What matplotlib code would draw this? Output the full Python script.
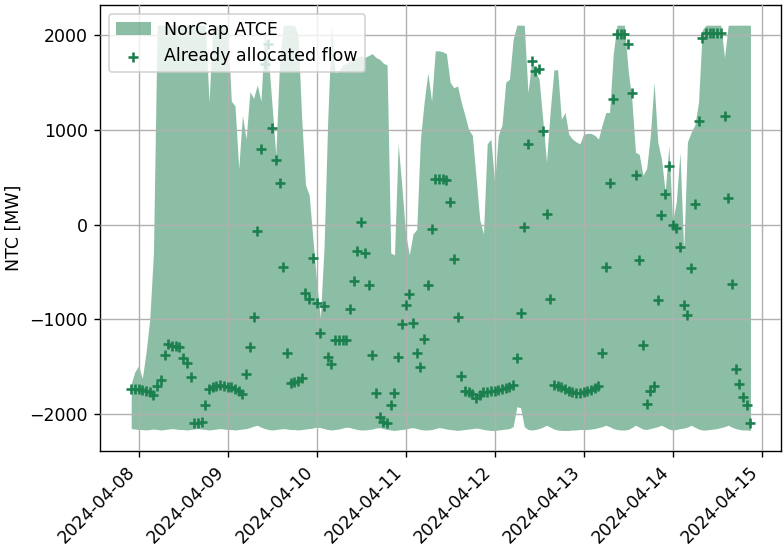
import matplotlib
matplotlib.use("Agg")
import matplotlib.pyplot as plt
import pandas as pd

# Hourly timestamps (one week)
times = pd.date_range("2024-04-07 22:00", periods=168, freq="h")

# NorCap ATCE upper bound [MW]
atce_max = [
    -1680, -1550, -1490, -1620, -1350, -1000, -300, 2100, 2100, 2100,
    2100, 2100, 2100, 2100, 2100, 2100, 2100, 2100, 2100, 2100,
    2100, 1290, 2100, 2100, 2100, 2100, 2100, 1300, 1250, 590,
    1150, 900, 1400, 1330, 1470, 1300, 2050, 1760, 1250, 730,
    1700, 2100, 2100, 2100, 2100, 2000, 1100, 420, 310, -150,
    -600, -985, -250, 1100, 2100, 1600, 1620, 1680, 1700, 1720,
    1740, 1760, 1780, 1760, 1780, 1800, 1760, 1740, 1700, 1680,
    -300, -320, 850, 400, -100, -320, -100, -50, 900, 1290,
    1600, 1300, 1830, 1830, 1820, 1800, 1500, 1440, 1460, 1290,
    1150, 1000, 940, 500, 50, -100, 850, 900, 450, 940,
    1050, 1500, 1530, 1950, 2100, 2100, 2100, 1390, 1710, 1620,
    1530, 1100, 660, 1200, 1630, 1630, 1110, 1180, 950, 900,
    870, 850, 950, 960, 960, 940, 900, 1050, 1180, 1180,
    1800, 2100, 2100, 2100, 1630, 1320, 760, 740, 520, 590,
    940, 1500, 870, 690, 345, 830, 30, 240, 760, -280,
    870, 970, 1050, 1290, 2050, 2100, 2100, 2100, 2100, 2100,
    1760, 2100, 2100, 2100, 2100, 2100, 2100, 2100,
]

# NorCap ATCE lower bound [MW]
atce_min = [
    -2150, -2155, -2160, -2160, -2165, -2160, -2155, -2160, -2165, -2160,
    -2155, -2150, -2155, -2160, -2160, -2165, -2160, -2155, -2150, -2155,
    -2160, -2165, -2160, -2155, -2150, -2155, -2160, -2160, -2165, -2160,
    -2155, -2150, -2140, -2125, -2115, -2135, -2150, -2160, -2165, -2160,
    -2155, -2150, -2155, -2160, -2160, -2165, -2160, -2155, -2150, -2145,
    -2135, -2140, -2150, -2160, -2165, -2160, -2155, -2145, -2135, -2140,
    -2150, -2160, -2165, -2165, -2160, -2155, -2145, -2140, -2150, -2160,
    -2165, -2170, -2165, -2160, -2155, -2145, -2140, -2150, -2160, -2165,
    -2165, -2160, -2150, -2140, -2145, -2155, -2160, -2165, -2170, -2165,
    -2160, -2155, -2150, -2145, -2150, -2160, -2165, -2170, -2170, -2165,
    -2160, -2155, -2150, -2130, -1920, -1930, -2130, -2160, -2165, -2160,
    -2150, -2135, -2115, -2135, -2155, -2165, -2170, -2170, -2170, -2165,
    -2165, -2160, -2160, -2160, -2155, -2150, -2140, -2130, -2115, -2130,
    -2150, -2160, -2165, -2165, -2160, -2140, -2115, -2135, -2155, -2160,
    -2150, -2140, -2130, -2115, -2135, -2155, -2165, -2160, -2150, -2145,
    -2135, -2115, -2135, -2155, -2165, -2165, -2160, -2155, -2150, -2140,
    -2130, -2115, -2135, -2150, -2160, -2165, -2165, -2170,
]

# Already allocated flow [MW]
allocated = [
    -1730, -1730, -1735, -1740, -1750, -1760, -1800, -1700, -1640, -1380,
    -1260, -1275, -1280, -1290, -1410, -1460, -1610, -2090, -2090, -2080,
    -1905, -1730, -1715, -1700, -1690, -1700, -1710, -1715, -1730, -1750,
    -1790, -1570, -1295, -970, -70, 800, 1690, 1900, 1015, 680,
    440, -450, -1350, -1665, -1660, -1650, -1620, -720, -790, -355,
    -825, -1140, -860, -1400, -1470, -1215, -1215, -1215, -1215, -890,
    -590, -275, 30, -300, -640, -1375, -1775, -2030, -2085, -2090,
    -1905, -1780, -1400, -1045, -850, -735, -1040, -1350, -1500, -1205,
    -640, -50, 480, 480, 475, 470, 240, -365, -970, -1600,
    -1750, -1760, -1790, -1830, -1800, -1770, -1760, -1755, -1750, -1745,
    -1735, -1720, -1710, -1690, -1410, -930, -30, 850, 1720, 1620,
    1640, 980, 110, -790, -1690, -1700, -1715, -1730, -1750, -1765,
    -1775, -1780, -1770, -1750, -1740, -1725, -1700, -1350, -450, 440,
    1320, 2010, 2010, 2010, 1900, 1390, 520, -370, -1270, -1895,
    -1750, -1700, -795, 100, 320, 615, 0, -40, -240, -850,
    -955, -460, 220, 1090, 1970, 2020, 2020, 2020, 2020, 2020,
    1140, 275, -625, -1520, -1685, -1820, -1905, -2090,
]

green = '#1b7f4e'

fig, ax = plt.subplots(figsize=(783 / 125, 547 / 125), dpi=125)
fig.subplots_adjust(left=0.128, right=0.998, bottom=0.176, top=0.991)

ax.fill_between(times, atce_min, atce_max, color=green, alpha=0.5,
                linewidth=0, label='NorCap ATCE')
ax.scatter(times, allocated, marker='+', s=40, linewidths=1.5,
           color=green, label='Already allocated flow', zorder=3)

ax.set_ylabel('NTC [MW]')
ax.grid(True)
ax.set_axisbelow(False)
plt.setp(ax.get_xticklabels(), rotation=45, ha='right')
ax.legend(loc='upper left')

fig.savefig('out.png', dpi=125)
